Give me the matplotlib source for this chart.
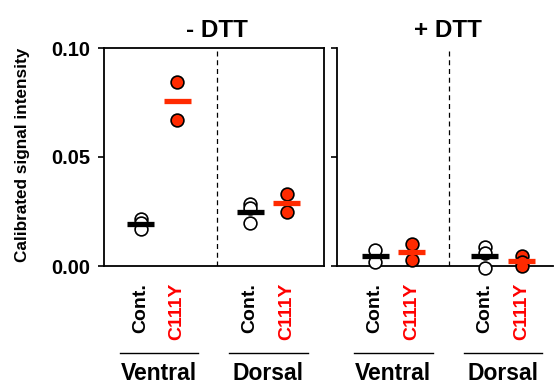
import matplotlib
matplotlib.use('Agg')
import matplotlib.pyplot as plt
import numpy as np
from matplotlib.transforms import blended_transform_factory
from matplotlib.lines import Line2D

plt.rcParams['font.family'] = ['Liberation Sans', 'DejaVu Sans']
plt.rcParams['font.weight'] = 'bold'

# ---- data ----
panel_titles = ['- DTT', '+ DTT']
regions = ['Ventral', 'Dorsal']
conditions = ['Cont.', 'C111Y']
y_ticks = [0.00, 0.05, 0.10]
y_tick_labels = ['0.00', '0.05', '0.10']
y_label = 'Calibrated signal intensity'

# - DTT
minus_ventral_cont = [0.0216, 0.0199, 0.0168]
minus_ventral_c111y = [0.0845, 0.0670]
minus_dorsal_cont = [0.0284, 0.0265, 0.0197]
minus_dorsal_c111y = [0.0329, 0.0249]
# + DTT
plus_ventral_cont = [0.0073, 0.0020]
plus_ventral_c111y = [0.0099, 0.0027]
plus_dorsal_cont = [0.0088, 0.0058, -0.0010]
plus_dorsal_c111y = [0.0046, 0.0020, 0.0001]

panels = [
    [[minus_ventral_cont, minus_ventral_c111y], [minus_dorsal_cont, minus_dorsal_c111y]],
    [[plus_ventral_cont, plus_ventral_c111y], [plus_dorsal_cont, plus_dorsal_c111y]],
]

RED = '#FF2A00'
TEXT_RED = '#FF0000'

fig = plt.figure(figsize=(5.55, 3.85), dpi=100)
W, H = 555.0, 385.0
axL = fig.add_axes([104 / W, 1 - 266 / H, 220 / W, 218 / H])
axR = fig.add_axes([337 / W, 1 - 266 / H, 216 / W, 218 / H])
axes = [axL, axR]
xlims = [(0, 6.02), (-0.04, 5.86)]
divider_x = [3.1, 3.02]
group_centers = [1.5, 4.5]

for pi, ax in enumerate(axes):
    ax.set_xlim(*xlims[pi])
    ax.set_ylim(0, 0.10)
    ax.set_yticks(y_ticks)
    for s in ax.spines.values():
        s.set_linewidth(1.3)
    ax.tick_params(axis='y', direction='out', length=4, width=1.2,
                   labelsize=14.5, pad=6)
    ax.set_xticks([])
    if pi == 0:
        ax.set_yticklabels(y_tick_labels)
    else:
        ax.set_yticklabels([])
        ax.spines['top'].set_visible(False)
        ax.spines['right'].set_visible(False)
    ax.axvline(divider_x[pi], color='black', lw=0.9, ls=(0, (4, 3)), zorder=1)

    trans = blended_transform_factory(ax.transData, fig.transFigure)
    ax.text(3.1 if pi == 0 else 3.0, 1 - 37 / H, panel_titles[pi], va='baseline',
            ha='center', fontsize=17.5, fontweight='bold', transform=trans)
    for gi, gc in enumerate(group_centers):
        for ci, cond in enumerate(conditions):
            x = gc - 0.5 + ci
            vals = panels[pi][gi][ci]
            face = 'white' if ci == 0 else RED
            barc = 'black' if ci == 0 else RED
            ax.plot([x] * len(vals), vals, 'o', ms=9.2, mfc=face, mec='black',
                    mew=1.2, zorder=3, clip_on=False)
            m = np.mean(vals)
            ax.hlines(m, x - 0.37, x + 0.37, colors=barc, lw=3.8, zorder=4)
            ax.text(x, 1 - 283 / H, cond, rotation=90, va='top', ha='center',
                    fontsize=14, fontweight='bold',
                    color='black' if ci == 0 else TEXT_RED, transform=trans)
        line = Line2D([gc - 1.07, gc + 1.07], [1 - 353 / H] * 2, color='black',
                      lw=1.0, transform=trans)
        fig.add_artist(line)
        ax.text(gc, 1 - 373 / H, regions[gi], va='center', ha='center',
                fontsize=16.5, fontweight='bold', transform=trans)

fig.text(23 / W, 1 - 155 / H, y_label, rotation=90, va='center', ha='center',
         fontsize=12.3, fontweight='bold')

fig.savefig('out.png', dpi=100)
